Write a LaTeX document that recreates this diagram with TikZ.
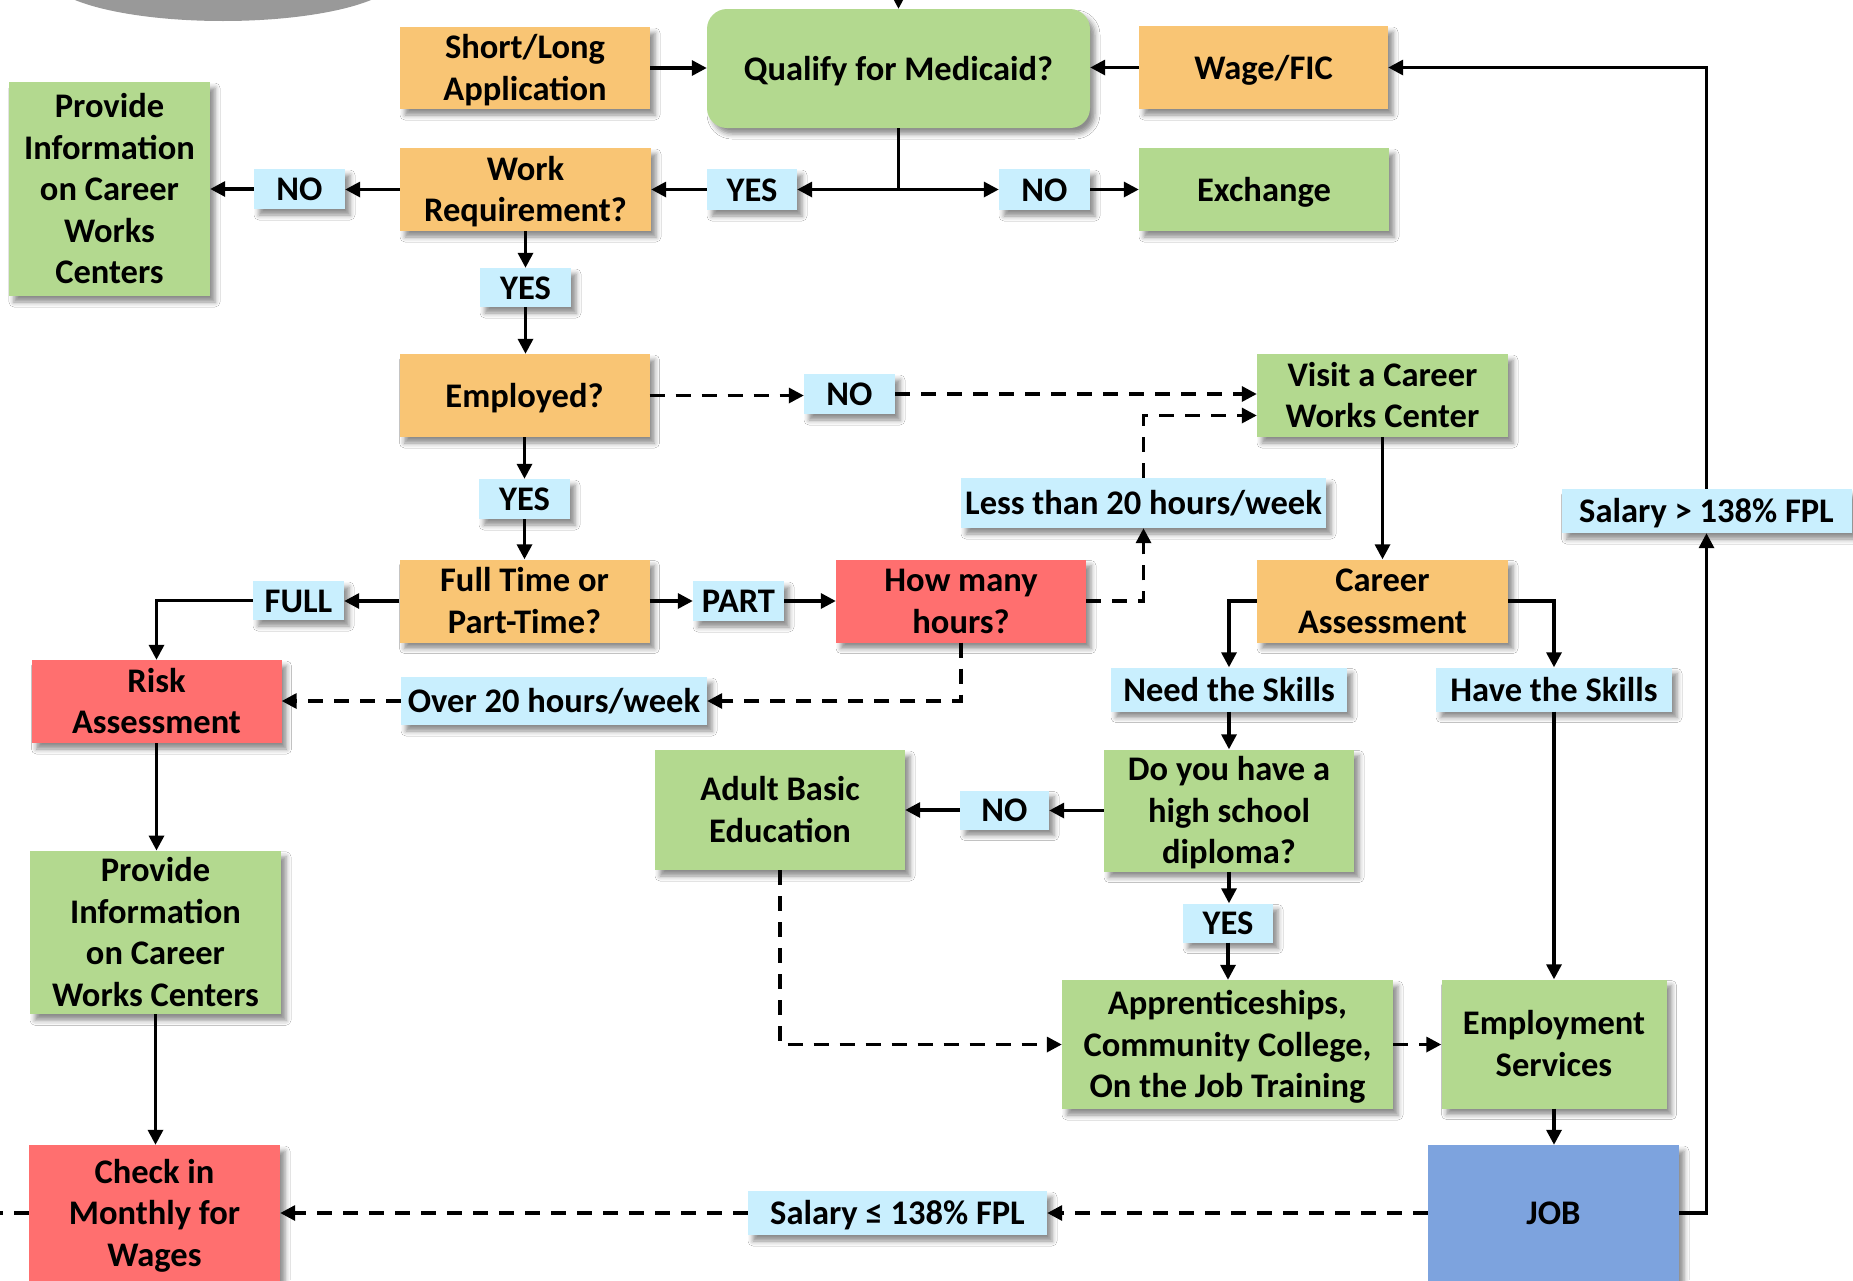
\documentclass[tikz,border=0pt]{standalone}
\usepackage{fontspec}
\setmainfont{Carlito}
\usetikzlibrary{arrows.meta,shadows,shadows.blur,calc}
\definecolor{cOrg}{HTML}{F9C574}
\definecolor{cGrn}{HTML}{B3D98F}
\definecolor{cRed}{HTML}{FF6F6F}
\definecolor{cLbl}{HTML}{C9EFFE}
\definecolor{cJob}{HTML}{7DA3DE}
\newcommand\boxtxt[1]{\rule{0pt}{31pt}#1\rule[-8pt]{0pt}{0pt}}
\tikzset{
  base/.style={rectangle, inner sep=0pt, align=center,
    font=\fontsize{34.5}{41.5}\selectfont\bfseries,
    blur shadow={shadow xshift=5pt, shadow yshift=-6pt, shadow blur radius=5pt, shadow opacity=45}},
  org/.style={base, fill=cOrg},
  grn/.style={base, fill=cGrn},
  redb/.style={base, fill=cRed},
  lbl/.style={base, fill=cLbl},
  jobb/.style={base, fill=cJob},
  sz/.style 2 args={minimum width=#1pt, minimum height=#2pt},
  ln/.style={line width=3.3pt},
  arr/.style={ln, -{Triangle[length=15pt,width=15pt]}},
  dsh/.style={arr, dash pattern=on 15pt off 11pt},
  dln/.style={ln, dash pattern=on 15pt off 11pt},
}
\begin{document}
\begin{tikzpicture}[x=1pt,y=-1pt]
\useasboundingbox (0,0) rectangle (1853,1280);
\clip (0,0) rectangle (1853,1280);
\fill[white] (0,0) rectangle (1853,1280);
% grey ellipse at top
\fill[black!40] (223,-24) ellipse [x radius=175pt, y radius=45pt];

% nodes
\node[grn, sz={383}{119}, rounded corners=20pt] (qual) at (898.5,68.5) {\boxtxt{Qualify for Medicaid?}};
\node[org, sz={250}{82}] (short) at (525,68) {\boxtxt{Short/Long\\Application}};
\node[org, sz={249}{83}] (wage) at (1263.5,67.5) {\boxtxt{Wage/FIC}};
\node[grn, sz={250}{83}] (exch) at (1264,189.5) {\boxtxt{Exchange}};
\node[lbl, sz={90}{41}] (yes1) at (752,189.5) {\boxtxt{YES}};
\node[lbl, sz={91}{41}] (no1) at (1044.5,189.5) {\boxtxt{NO}};
\node[org, sz={251}{83}] (work) at (525.5,189.5) {\boxtxt{Work\\Requirement?}};
\node[lbl, sz={91}{40}] (no2) at (299.5,189) {\boxtxt{NO}};
\node[grn, sz={201}{214}] (prov1) at (109.5,189) {\boxtxt{Provide\\Information\\on Career\\Works\\Centers}};
\node[lbl, sz={91}{39}] (yes2) at (525.5,287.5) {\boxtxt{YES}};
\node[org, sz={250}{83}] (emp) at (524.5,395.5) {\boxtxt{Employed?}};
\node[lbl, sz={91}{40}] (no3) at (849.5,394) {\boxtxt{NO}};
\node[grn, sz={251}{83}] (visit) at (1382.5,395.5) {\boxtxt{Visit a Career\\Works Center}};
\node[lbl, sz={365}{50}] (less) at (1143.5,503) {\boxtxt{Less than 20 hours/week}};
\node[lbl, sz={91}{40}] (yes3) at (524.5,499) {\boxtxt{YES}};
\node[org, sz={250}{83}] (full) at (524.5,601) {\boxtxt{Full Time or\\Part-Time?}};
\node[lbl, sz={91}{40}] (part) at (738.5,601) {\boxtxt{PART}};
\node[lbl, sz={91}{39}] (fulll) at (298.5,600.5) {\boxtxt{FULL}};
\node[redb, sz={250}{83}] (how) at (961,601) {\boxtxt{How many\\hours?}};
\node[org, sz={251}{83}] (career) at (1382.5,601) {\boxtxt{Career\\Assessment}};
\node[lbl, sz={236}{44}] (need) at (1229,689.5) {\boxtxt{Need the Skills}};
\node[lbl, sz={236}{44}] (have) at (1554,689.5) {\boxtxt{Have the Skills}};
\node[redb, sz={250}{83}] (risk) at (156.5,701.5) {\boxtxt{Risk\\Assessment}};
\node[lbl, sz={306}{48}] (over) at (554,701) {\boxtxt{Over 20 hours/week}};
\node[grn, sz={250}{121}] (dip) at (1229,810.5) {\boxtxt{Do you have a\\high school\\diploma?}};
\node[lbl, sz={89}{38}] (no4) at (1004.5,810) {\boxtxt{NO}};
\node[grn, sz={250}{120}] (adult) at (780,810) {\boxtxt{Adult Basic\\Education}};
\node[lbl, sz={90}{38}] (yes4) at (1228,923) {\boxtxt{YES}};
\node[grn, sz={331}{129}] (appr) at (1227.5,1044.5) {\boxtxt{Apprenticeships,\\Community College,\\On the Job Training}};
\node[grn, sz={225}{129}] (emps) at (1554,1044) {\boxtxt{Employment\\Services}};
\node[grn, sz={251}{163}] (prov2) at (155.5,932.5) {\boxtxt{Provide\\Information\\on Career\\Works Centers}};
\node[redb, sz={251}{136}] (check) at (154.5,1213) {\boxtxt{Check in\\Monthly for\\Wages}};
\node[jobb, sz={251}{136}] (job) at (1553.5,1213) {\boxtxt{JOB}};
\node[lbl, sz={299}{44}] (sal2) at (897.5,1213) {\boxtxt{Salary ≤ 138\% FPL}};
\node[lbl, sz={290}{44}] (sal1) at (1706.5,511) {\boxtxt{Salary > 138\% FPL}};

% connectors
\coordinate (topin) at (898.5,-20);
\draw[arr] (topin) -- (qual.north);
\draw[arr] (short.east) -- (short.east -| qual.west);
\draw[arr] (wage.west) -- (wage.west -| qual.east);
\coordinate (jn) at (qual.south |- yes1.east);
\draw[ln] (qual.south) -- (jn);
\draw[arr] (jn) -- (yes1.east);
\draw[arr] (jn) -- (no1.west);
\draw[arr] (no1.east) -- (no1.east -| exch.west);
\draw[arr] (yes1.west) -- (yes1.west -| work.east);
\draw[arr] (work.west) -- (work.west -| no2.east);
\draw[arr] (no2.west) -- (no2.west -| prov1.east);
\draw[arr] (work.south) -- (work.south |- yes2.north);
\draw[arr] (yes2.south) -- (yes2.south |- emp.north);
\draw[dsh] (emp.east) -- (emp.east -| no3.west);
\draw[dsh] (no3.east) -- (no3.east -| visit.west);
\draw[arr] (emp.south) -- (emp.south |- yes3.north);
\draw[arr] (yes3.south) -- (yes3.south |- full.north);
\draw[arr] (full.east) -- (full.east -| part.west);
\draw[arr] (part.east) -- (part.east -| how.west);
\draw[arr] (full.west) -- (full.west -| fulll.east);
\draw[arr] (fulll.west) -| (risk.north);
\draw[dsh] (how.east) -| (less.south);
\draw[dsh] (less.north) |- ([yshift=-20pt]visit.west);
\draw[dsh] (how.south) |- (over.east);
\draw[dsh] (over.west) -- (over.west -| risk.east);
\draw[arr] (risk.south) -- (risk.south |- prov2.north);
\draw[arr] (prov2.south) -- (prov2.south |- check.north);
\draw[arr] (visit.south) -- (career.north);
\draw[arr] (career.west) -| (need.north);
\draw[arr] (career.east) -| (have.north);
\draw[arr] (need.south) -- (need.south |- dip.north);
\draw[arr] (dip.west) -- (dip.west -| no4.east);
\draw[arr] (no4.west) -- (no4.west -| adult.east);
\draw[arr] (dip.south) -- (dip.south |- yes4.north);
\draw[arr] (yes4.south) -- (yes4.south |- appr.north);
\draw[dsh] (adult.south) |- (appr.west);
\draw[dsh] (appr.east) -- (appr.east -| emps.west);
\draw[arr] (have.south) -- (have.south |- emps.north);
\draw[arr] (emps.south) -- (emps.south |- job.north);
\draw[dsh] (job.west) -- (job.west -| sal2.east);
\draw[dsh] (sal2.west) -- (sal2.west -| check.east);
\coordinate (leftend) at (-10,1213);
\draw[dln] (check.west) -- (leftend);
\draw[arr] (job.east) -| (sal1.south);
\draw[arr] (sal1.north) |- (wage.east);
\end{tikzpicture}
\end{document}
